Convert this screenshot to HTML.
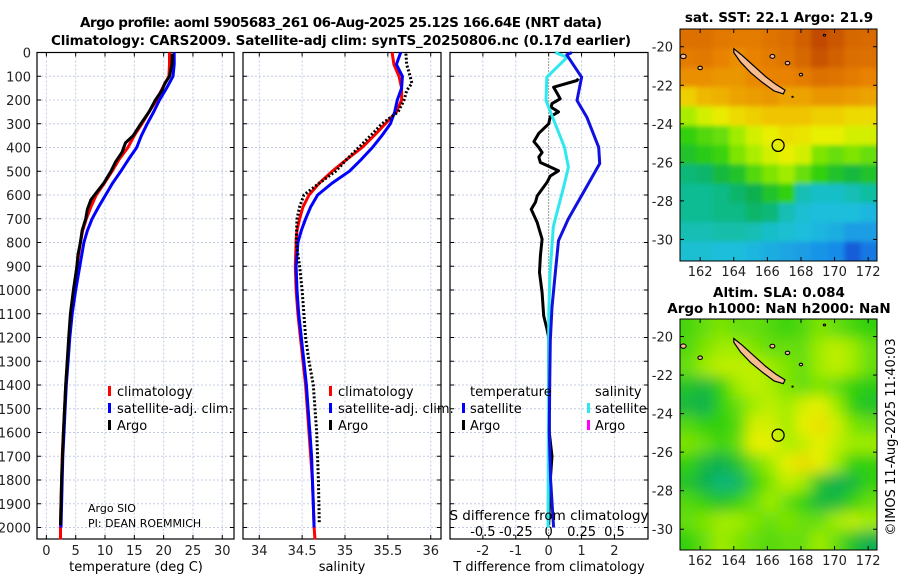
<!DOCTYPE html>
<html><head><meta charset="utf-8"><style>
html,body{margin:0;padding:0;background:#fff;}
svg{display:block;font-family:"DejaVu Sans","Liberation Sans",sans-serif;}
</style></head><body>
<svg id="fig" width="900" height="580" viewBox="0 0 900 580" xmlns="http://www.w3.org/2000/svg">
<defs><filter id="blur" x="0" y="0" width="1" height="1"><feGaussianBlur stdDeviation="7"/></filter>
<filter id="blurS" x="0" y="0" width="1" height="1"><feGaussianBlur stdDeviation="2.5"/></filter>
<clipPath id="clipTop"><rect x="680" y="29" width="197" height="232"/></clipPath>
<clipPath id="clipBot"><rect x="680" y="319" width="197" height="231"/></clipPath></defs>
<text x="341" y="27" text-anchor="middle" font-weight="bold" font-size="13.5" textLength="522">Argo profile: aoml 5905683_261 06-Aug-2025 25.12S 166.64E (NRT data)</text>
<text x="341" y="45" text-anchor="middle" font-weight="bold" font-size="13.5" textLength="580">Climatology: CARS2009. Satellite-adj clim: synTS_20250806.nc (0.17d earlier)</text>
<g id="g"></g>
</svg>
<script>
// ---- profile data ----
const depthsClim=[0,50,100,150,200,250,300,350,400,450,500,550,600,650,700,750,800,900,1000,1100,1200,1300,1400,1500,1600,1700,1800,1900,2000,2050];
const tempClim=[21.0,21.0,20.9,19.8,18.8,17.5,16.3,15.0,13.9,12.4,11.2,9.9,8.5,7.6,6.8,6.2,5.8,5.2,4.7,4.2,3.9,3.6,3.3,3.1,2.9,2.7,2.6,2.5,2.4,2.4];
const depthsSat=[0,50,100,150,200,250,300,350,400,450,500,550,600,650,700,750,800,900,1000,1100,1200,1300,1400,1500,1600,1700,1800,1900,2000];
const tempSat=[21.8,21.8,21.6,20.5,19.3,18.3,17.2,16.2,15.4,14.0,12.7,11.3,10.1,8.9,7.8,7.0,6.4,5.7,5.0,4.4,4.0,3.7,3.4,3.2,3.0,2.8,2.7,2.6,2.5];
const depthsArgo=[5,50,100,130,160,200,250,300,350,380,420,460,500,550,600,620,660,700,750,800,850,900,1000,1100,1200,1400,1600,1800,1990];
const tempArgo=[21.5,21.4,21.0,20.2,19.7,18.6,17.5,16.1,14.8,13.5,12.9,11.8,11.0,9.8,8.2,7.6,7.0,6.7,6.1,5.8,5.4,5.2,4.6,4.1,3.8,3.3,2.9,2.6,2.4];
const salClim=[35.55,35.57,35.63,35.66,35.66,35.6,35.47,35.34,35.2,35.02,34.85,34.7,34.58,34.51,34.47,34.44,34.43,34.42,34.43,34.45,34.48,34.51,34.54,34.56,34.58,34.6,34.62,34.63,34.64,34.65];
const salSat=[35.65,35.6,35.67,35.66,35.61,35.58,35.53,35.43,35.32,35.19,35.05,34.85,34.68,34.6,34.54,34.49,34.45,34.43,34.44,34.46,34.49,34.52,34.55,34.57,34.59,34.61,34.62,34.63,34.64];
const depthsSalArgo=[5,50,100,130,160,200,250,300,350,400,450,500,550,600,650,700,800,900,1000,1100,1200,1300,1400,1600,1800,1985];
const salArgo=[35.71,35.72,35.76,35.78,35.72,35.69,35.62,35.43,35.3,35.16,35.02,34.89,34.7,34.52,34.47,34.44,34.43,34.47,34.5,34.52,34.54,34.58,34.63,34.67,34.69,34.7];
// differences
const depthsDiffSat=[0,10,104,202,272,399,468,588,700,792,932,1072,1213,1400,1600,1800,2000];
const tDiffSat=[0.7,0.55,1.0,0.86,1.16,1.52,1.55,1.06,0.6,0.3,0.2,0.1,0.05,0.03,0.02,0.06,0.15];
const depthsSDiff=[0,20,104,202,300,399,483,575,733,932,1100,1400,1700,2000];
const sDiffSat=[0.05,0.14,-0.014,-0.02,0.05,0.12,0.15,0.11,0.035,0.01,0.0,0.0,-0.003,-0.005];
const depthsDiffArgo=[110,118,146,170,195,215,230,250,270,300,340,375,400,421,440,463,498,520,547,604,630,660,716,786,856,926,1011,1109,1165,1200,1400,1600,1700,1800,1990];
const tDiffArgo=[0.9,0.86,0.15,0.25,0.35,0.1,0.07,0.3,0.05,0.0,-0.3,-0.45,-0.3,-0.2,-0.3,-0.25,0.3,0.05,-0.05,-0.35,-0.4,-0.53,-0.35,-0.2,-0.25,-0.28,-0.2,-0.15,-0.05,0.0,0.0,0.02,0.1,0.05,0.0];
const depthTicks=[0,100,200,300,400,500,600,700,800,900,1000,1100,1200,1300,1400,1500,1600,1700,1800,1900,2000];
const tempTicks=[0,5,10,15,20,25,30];
const salTicks=[34,34.5,35,35.5,36];
const salTickLabels=["34","34.5","35","35.5","36"];
const tdTicks=[-2,-1,0,1,2];
const sdTicks=[-0.5,-0.25,0,0.25,0.5];
const sdTickLabels=["-0.5","-0.25","0","0.25","0.5"];
// ---- map data (rows lat -19..-31, cols lon 160.8..172.5) ----
const sstGrid=[
[0.85,0.85,0.83,0.82,0.82,0.84,0.86,0.9,0.95,0.92,0.88,0.87],
[0.82,0.83,0.8,0.78,0.8,0.82,0.84,0.88,0.93,0.9,0.86,0.85],
[0.78,0.78,0.77,0.77,0.79,0.8,0.8,0.82,0.85,0.84,0.82,0.8],
[0.68,0.72,0.73,0.75,0.76,0.77,0.75,0.75,0.77,0.77,0.76,0.75],
[0.56,0.6,0.63,0.66,0.68,0.7,0.7,0.7,0.68,0.68,0.66,0.66],
[0.45,0.48,0.5,0.55,0.6,0.62,0.65,0.64,0.62,0.62,0.6,0.6],
[0.42,0.44,0.46,0.52,0.56,0.6,0.62,0.6,0.52,0.5,0.52,0.5],
[0.35,0.36,0.4,0.42,0.48,0.52,0.55,0.5,0.45,0.42,0.4,0.42],
[0.33,0.33,0.34,0.36,0.38,0.42,0.45,0.3,0.28,0.28,0.3,0.32],
[0.33,0.33,0.34,0.34,0.36,0.35,0.3,0.27,0.26,0.26,0.26,0.25],
[0.3,0.3,0.31,0.31,0.3,0.28,0.27,0.26,0.25,0.24,0.22,0.22],
[0.27,0.27,0.26,0.26,0.25,0.24,0.23,0.22,0.21,0.2,0.15,0.18]];
const slaGrid=[
[0.47,0.5,0.52,0.5,0.5,0.48,0.46,0.48,0.52,0.5,0.47,0.45],
[0.48,0.52,0.55,0.55,0.52,0.5,0.5,0.5,0.55,0.58,0.55,0.5],
[0.5,0.55,0.58,0.58,0.58,0.55,0.52,0.5,0.55,0.58,0.55,0.5],
[0.42,0.4,0.45,0.55,0.58,0.56,0.52,0.5,0.52,0.5,0.45,0.44],
[0.4,0.38,0.45,0.5,0.55,0.58,0.55,0.6,0.62,0.55,0.45,0.42],
[0.48,0.45,0.45,0.48,0.6,0.6,0.55,0.62,0.65,0.6,0.52,0.5],
[0.52,0.5,0.46,0.5,0.62,0.62,0.56,0.58,0.62,0.58,0.55,0.55],
[0.45,0.4,0.38,0.42,0.5,0.55,0.62,0.66,0.62,0.55,0.45,0.45],
[0.42,0.38,0.35,0.36,0.45,0.52,0.58,0.55,0.42,0.38,0.4,0.45],
[0.48,0.45,0.42,0.45,0.5,0.55,0.5,0.45,0.4,0.4,0.45,0.5],
[0.5,0.52,0.55,0.55,0.52,0.5,0.52,0.5,0.5,0.55,0.58,0.55],
[0.45,0.5,0.55,0.52,0.5,0.48,0.5,0.5,0.55,0.5,0.42,0.38]];
const lonTicks=[162,164,166,168,170,172];
const latTicks=[-20,-22,-24,-26,-28,-30];
const floatLon=166.64, floatLat=-25.12;
const mainIsland=[[164.0,-20.1],[164.5,-20.45],[165.2,-21.0],[165.9,-21.55],[166.5,-21.95],[167.05,-22.25],[166.95,-22.45],[166.4,-22.3],[165.7,-21.85],[165.0,-21.35],[164.4,-20.8],[164.0,-20.3]];
const smallIslands=[[166.3,-20.5,0.22],[167.2,-20.85,0.2],[168.0,-21.45,0.15],[169.4,-19.4,0.1],[162.0,-21.1,0.2],[161.0,-20.5,0.25],[167.5,-22.6,0.06]];

const NS="http://www.w3.org/2000/svg";
const G=document.getElementById('g');
function el(tag,attrs,parent){const e=document.createElementNS(NS,tag);for(const k in attrs)e.setAttribute(k,attrs[k]);(parent||G).appendChild(e);return e;}
const Y0=52.5,YK=0.2375,YB=539;
const dy=d=>Y0+d*YK;
const panels=[{x0:37,x1:234,v0:-1.6,v1:32.0},{x0:243,x1:441,v0:33.81,v1:36.12},{x0:450,x1:648,v0:-3.0,v1:3.02}];
const px=(p,v)=>p.x0+(v-p.v0)/(p.v1-p.v0)*(p.x1-p.x0);
const sx=v=>px(panels[2],v*4);

panels.forEach((p,i)=>{
  const f=el('g',{});
  
  
  depthTicks.forEach(d=>{const l=el('line',{x1:p.x0,x2:p.x1,y1:dy(d),y2:dy(d),stroke:'#c4cbe6','stroke-width':1,'stroke-dasharray':'2,2'},f);
    
    el('line',{x1:p.x0,x2:p.x0+4,y1:dy(d),y2:dy(d),stroke:'#000'},f);el('line',{x1:p.x1-4,x2:p.x1,y1:dy(d),y2:dy(d),stroke:'#000'},f);});
  const vt=i==0?tempTicks:i==1?salTicks:tdTicks;
  vt.forEach(v=>{const x=px(p,v);
    if(!(i==2&&v==0)){const l=el('line',{x1:x,x2:x,y1:Y0,y2:YB,stroke:'#c4cbe6','stroke-dasharray':'2,2'},f);}
    el('line',{x1:x,x2:x,y1:YB-4,y2:YB,stroke:'#000'},f);el('line',{x1:x,x2:x,y1:Y0,y2:Y0+4,stroke:'#000'},f);});
  const r=el('rect',{x:p.x0,y:Y0,width:p.x1-p.x0,height:YB-Y0,fill:'none',stroke:'#000','stroke-width':1.2},f);
  
});
depthTicks.forEach(d=>{const t=el('text',{x:31,y:dy(d)+5,'text-anchor':'end','font-size':13,fill:'#222'});t.textContent=d;
  });
tempTicks.forEach(v=>{const t=el('text',{x:px(panels[0],v),y:555,'text-anchor':'middle','font-size':13,fill:'#222'});t.textContent=v;
  });
salTicks.forEach((v,k)=>{const t=el('text',{x:px(panels[1],v),y:555,'text-anchor':'middle','font-size':13,fill:'#222'});t.textContent=salTickLabels[k];
  });
tdTicks.forEach(v=>{const t=el('text',{x:px(panels[2],v),y:555,'text-anchor':'middle','font-size':13,fill:'#222'});t.textContent=v;
  });
sdTicks.forEach((v,k)=>{const t=el('text',{x:sx(v),y:536,'text-anchor':'middle','font-size':13,fill:'#000'});t.textContent=sdTickLabels[k];
  });
{const z=el('line',{x1:px(panels[2],0),x2:px(panels[2],0),y1:Y0,y2:YB,stroke:'#333','stroke-dasharray':'1,2'});}

function line(xs,ds,fx,color,name,dash,w){
  const pts=xs.map((v,k)=>fx(v).toFixed(1)+','+dy(ds[k]).toFixed(1)).join(' ');
  const a={points:pts,fill:'none',stroke:color,'stroke-width':w||3,'stroke-linejoin':'round'};if(dash)a['stroke-dasharray']=dash;
  const e=el('polyline',a);return e;}
const fT=v=>px(panels[0],v), fS=v=>px(panels[1],v), fD=v=>px(panels[2],v);
line(tempClim,depthsClim,fT,'#f00','temp-climatology-line');
line(tempSat,depthsSat,fT,'#00f','temp-satellite-line');
line(tempArgo,depthsArgo,fT,'#000','temp-argo-line');
line(salClim,depthsClim,fS,'#f00','sal-climatology-line');
line(salSat,depthsSat,fS,'#00f','sal-satellite-line');
line(salArgo,depthsSalArgo,fS,'#000','sal-argo-line','2,2');
line(tDiffArgo,depthsDiffArgo,fD,'#000','tdiff-argo-line');
line(sDiffSat,depthsSDiff,sx,'#2ee8f0','sdiff-satellite-line');
line(tDiffSat,depthsDiffSat,fD,'#1010e0','tdiff-satellite-line');

function txt(x,y,s,name,o){const t=el('text',Object.assign({x:x,y:y,'font-size':13},o||{}));t.textContent=s;return t;}
function mark(x,y,c,name){const r=el('rect',{x:x,y:y-10,width:3,height:10,fill:c});}
[[108,117],[329,338]].forEach((a,i)=>{
  mark(a[0],396,'#f00','legend-climatology-marker');txt(a[1],396,'climatology','legend-climatology');
  mark(a[0],413,'#00f','legend-satellite-marker');txt(a[1],413,'satellite-adj. clim.','legend-satellite');
  mark(a[0],430,'#000','legend-argo-marker');txt(a[1],430,'Argo','legend-argo');});
txt(470,396,'temperature','legend-temperature-header');txt(595,396,'salinity','legend-salinity-header');
mark(462,413,'#00f','legend-t-satellite-marker');txt(470,413,'satellite','legend-t-satellite');
mark(462,430,'#000','legend-t-argo-marker');txt(470,430,'Argo','legend-t-argo');
mark(587,413,'#2ee8f0','legend-s-satellite-marker');txt(595,413,'satellite','legend-s-satellite');
mark(587,430,'#f0f','legend-s-argo-marker');txt(595,430,'Argo','legend-s-argo');
txt(88,512,'Argo SIO','pi-institution',{'font-size':11});
txt(88,527,'PI: DEAN ROEMMICH','pi-name',{'font-size':11});
txt(549,520,'S difference from climatology','sdiff-axis-title',{'text-anchor':'middle','font-size':13.5});
txt(136,571,'temperature (deg C)','temp-axis-title',{'text-anchor':'middle'});
txt(342,571,'salinity','sal-axis-title',{'text-anchor':'middle'});
txt(549,571,'T difference from climatology','tdiff-axis-title',{'text-anchor':'middle'});

// ---- maps ----
const stopsSST=[[0.12,[16,64,208]],[0.2,[24,140,232]],[0.26,[30,190,220]],[0.32,[16,190,160]],[0.38,[16,176,80]],[0.45,[48,208,16]],[0.55,[160,236,0]],[0.62,[232,240,0]],[0.7,[240,196,0]],[0.8,[232,130,0]],[0.9,[210,96,0]],[1,[176,48,0]]];
function cmap(v){let s=stopsSST;if(v<=s[0][0])return 'rgb('+s[0][1]+')';
  for(let i=1;i<s.length;i++){if(v<=s[i][0]){const t=(v-s[i-1][0])/(s[i][0]-s[i-1][0]);const c=s[i][1].map((c1,k)=>Math.round(s[i-1][1][k]+(c1-s[i-1][1][k])*t));return 'rgb('+c+')';}}
  return 'rgb('+s[s.length-1][1]+')';}
const maps=[{x0:680,x1:877,y0:29,y1:261,latTop:-19.08,grid:sstGrid,clip:'clipTop',name:'sst-map',blur:'blurS',pad:8},
            {x0:680,x1:877,y0:319,y1:550,latTop:-19.09,grid:slaGrid,clip:'clipBot',name:'sla-map',blur:'blur',pad:17}];
const LON0=160.8,LONK=16.8,LATK=19.27;
maps.forEach(m=>{
  const lx=lon=>m.x0+(lon-LON0)*LONK, ly=lat=>m.y0+(m.latTop-lat)*LATK;
  const g=el('g',{'clip-path':'url(#'+m.clip+')'});
  const cells=el('g',{filter:'url(#'+m.blur+')'},g);
  const cw=(m.x1-m.x0)/12, ch=(m.y1-m.y0)/12, pad=m.pad;
  m.grid.forEach((row,r)=>row.forEach((v,c)=>{
    const x=m.x0+c*cw-(c==0?pad:0), y=m.y0+r*ch-(r==0?pad:0);
    const rc=el('rect',{x:x.toFixed(1),y:y.toFixed(1),width:(cw+0.6+(c==0||c==11?pad:0)).toFixed(1),height:(ch+0.6+(r==0||r==11?pad:0)).toFixed(1),fill:cmap(v)},cells);
    }));
  const pts=mainIsland.map(p=>lx(p[0]).toFixed(1)+','+ly(p[1]).toFixed(1)).join(' ');
  const isl=el('polygon',{points:pts,fill:'#f8bd8e',stroke:'#000','stroke-width':1.2},g);
  smallIslands.forEach(s=>{const e=el('ellipse',{cx:lx(s[0]),cy:ly(s[1]),rx:s[2]*LONK/1.5,ry:s[2]*LATK/2.2,fill:'#f8bd8e',stroke:'#000','stroke-width':1.1},g);
    });
  const fl=el('circle',{cx:lx(floatLon),cy:ly(floatLat),r:6,fill:'none',stroke:'#000','stroke-width':1.3},g);
  const fr=el('rect',{x:m.x0,y:m.y0,width:m.x1-m.x0,height:m.y1-m.y0,fill:'none',stroke:'#000','stroke-width':1});
  lonTicks.forEach(lon=>{const x=lx(lon);el('line',{x1:x,x2:x,y1:m.y1-4,y2:m.y1,stroke:'#000'});el('line',{x1:x,x2:x,y1:m.y0,y2:m.y0+4,stroke:'#000'});
    txt(x,m.y1+15,String(lon),'lon-tick-label',{'text-anchor':'middle',fill:'#222'});});
  latTicks.forEach(lat=>{const y=ly(lat);el('line',{x1:m.x0,x2:m.x0+4,y1:y,y2:y,stroke:'#000'});el('line',{x1:m.x1-4,x2:m.x1,y1:y,y2:y,stroke:'#000'});
    txt(673,y+5,String(lat),'lat-tick-label',{'text-anchor':'end',fill:'#222'});});
});
txt(779,22,'sat. SST: 22.1 Argo: 21.9','sst-map-title',{'text-anchor':'middle','font-weight':'bold','font-size':13.5});
txt(779,297,'Altim. SLA: 0.084','sla-map-title',{'text-anchor':'middle','font-weight':'bold','font-size':13.5});
txt(779,313,'Argo h1000: NaN h2000: NaN','sla-map-subtitle',{'text-anchor':'middle','font-weight':'bold','font-size':13.5});
txt(0,0,'©IMOS 11-Aug-2025 11:40:03','imos-timestamp',{'text-anchor':'middle','font-size':13,transform:'translate(895,437) rotate(-90)'});
</script>
</body></html>
